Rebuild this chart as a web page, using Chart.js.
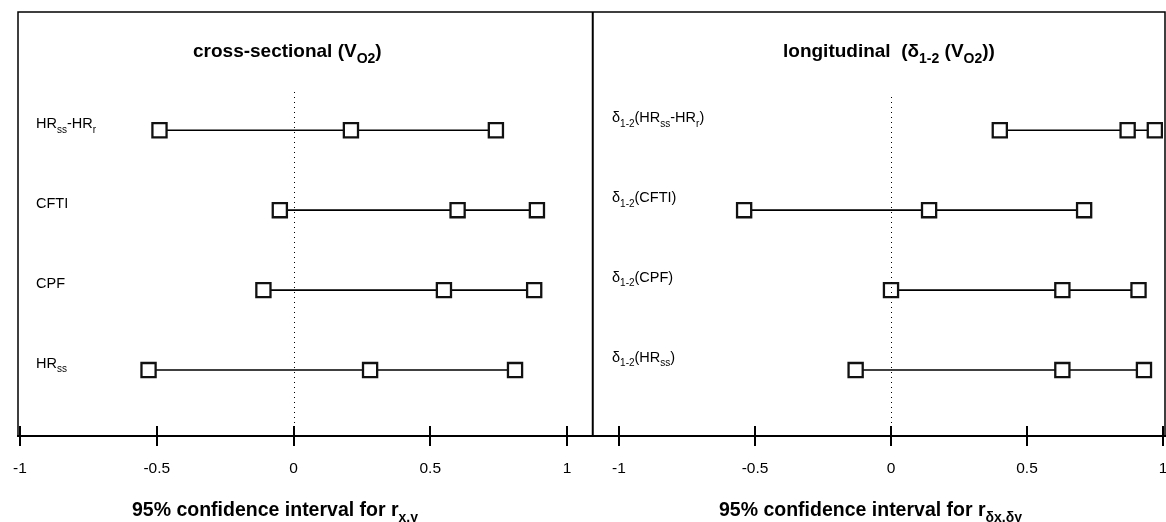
<!DOCTYPE html>
<html>
<head>
<meta charset="utf-8">
<script src="https://cdn.jsdelivr.net/npm/chart.js@4"></script>
<style>
  html, body { margin: 0; padding: 0; background: #fff; overflow: hidden; }
  #wrap { position: relative; width: 1166px; height: 522px; overflow: hidden; }
  #left-box { position: absolute; left: 0; top: 0; width: 593px; height: 522px; }
  #right-box { position: absolute; left: 593px; top: 0; width: 600px; height: 522px; }
</style>
</head>
<body>
<div id="wrap">
  <div id="left-box"><canvas id="left-chart"></canvas></div>
  <div id="right-box"><canvas id="right-chart"></canvas></div>
</div>
<script>
// Data
const xTicks = [-1, -0.5, 0, 0.5, 1];
const xTickLabels = ['-1', '-0.5', '0', '0.5', '1'];

const leftRows = ['HR_{ss}-HR_{r}', 'CFTI', 'CPF', 'HR_{ss}'];
const leftLow = [-0.49, -0.05, -0.11, -0.53];
const leftMid = [0.21, 0.60, 0.55, 0.28];
const leftHigh = [0.74, 0.89, 0.88, 0.81];

const rightRows = ['δ_{1-2}(HR_{ss}-HR_{r})', 'δ_{1-2}(CFTI)', 'δ_{1-2}(CPF)', 'δ_{1-2}(HR_{ss})'];
const rightLow = [0.40, -0.54, 0.00, -0.13];
const rightMid = [0.87, 0.14, 0.63, 0.63];
const rightHigh = [0.97, 0.71, 0.91, 0.93];

const FONT = '"Liberation Sans", Arial, sans-serif';

// draw text with _{...} parts as subscripts
function drawRich(ctx, text, x, y, size, weight, subScale) {
    const parts = text.split(/_\{([^}]*)\}/);
    const subSize = Math.round(size * subScale);
    let cx = x;
    ctx.textAlign = 'left';
    ctx.textBaseline = 'alphabetic';
    ctx.fillStyle = '#000';
    parts.forEach((p, i) => {
        const sub = i % 2 === 1;
        ctx.font = `${weight} ${sub ? subSize : size}px ${FONT}`;
        ctx.fillText(p, cx, sub ? y + size * 0.3 : y);
        cx += ctx.measureText(p).width;
    });
}

function makeDatasets(low, mid, high) {
    return low.map((v, i) => ({
        data: [
            { x: low[i], y: i + 1 },
            { x: mid[i], y: i + 1 },
            { x: high[i], y: i + 1 }
        ],
        showLine: true,
        borderColor: '#000',
        borderWidth: 1.6,
        pointStyle: 'rect',
        pointRadius: 10,
        pointHoverRadius: 10,
        pointBorderWidth: 2.3,
        pointBorderColor: '#111',
        pointBackgroundColor: '#fff'
    }));
}

function makePanel(id, cfg) {
    const decor = {
        id: 'decor',
        afterDraw(chart) {
            const ctx = chart.ctx;
            const xs = chart.scales.x;
            const ys = chart.scales.y;
            const w = chart.width;
            const axisY = chart.chartArea.bottom;
            ctx.save();
            ctx.strokeStyle = '#000';

            // frame
            ctx.lineWidth = 1.5;
            ctx.beginPath();
            ctx.moveTo(cfg.frameLeft, axisY);
            ctx.lineTo(cfg.frameLeft, 12);
            ctx.lineTo(cfg.frameRight, 12);
            ctx.lineTo(cfg.frameRight, axisY);
            ctx.stroke();

            // axis line
            ctx.lineWidth = 2;
            ctx.beginPath();
            ctx.moveTo(cfg.axisFrom, axisY);
            ctx.lineTo(w, axisY);
            ctx.stroke();

            // upper half of ticks
            xTicks.forEach(t => {
                const px = Math.round(xs.getPixelForValue(t));
                ctx.beginPath();
                ctx.moveTo(px, axisY - 10);
                ctx.lineTo(px, axisY);
                ctx.stroke();
            });

            // dotted zero line
            ctx.lineWidth = 1;
            ctx.setLineDash([1, 4]);
            const zx = Math.round(xs.getPixelForValue(0)) + 0.5;
            ctx.beginPath();
            ctx.moveTo(zx, cfg.dotTop);
            ctx.lineTo(zx, axisY);
            ctx.stroke();
            ctx.setLineDash([]);

            // row labels
            cfg.rows.forEach((r, i) => {
                const py = ys.getPixelForValue(i + 1);
                drawRich(ctx, r, cfg.labelX, py + cfg.labelDy, 14.5, 'normal', 0.7);
            });

            // title and axis title
            drawRich(ctx, cfg.title, cfg.titleX, 57, 19, 'bold', 0.72);
            drawRich(ctx, cfg.axisTitle, cfg.axisTitleX, 516, 19.5, 'bold', 0.72);
            ctx.restore();
        }
    };

    return new Chart(document.getElementById(id), {
        type: 'scatter',
        data: { datasets: makeDatasets(cfg.low, cfg.mid, cfg.high) },
        options: {
            responsive: true,
            maintainAspectRatio: false,
            animation: false,
            layout: { padding: { left: cfg.padLeft, right: cfg.padRight, top: 12, bottom: 0 } },
            plugins: { legend: { display: false }, tooltip: { enabled: false } },
            scales: {
                x: {
                    type: 'linear',
                    min: -1,
                    max: 1,
                    afterBuildTicks(scale) {
                        scale.ticks = xTicks.map(v => ({ value: v }));
                    },
                    afterFit(scale) { scale.height = 86; },
                    border: { display: false },
                    grid: {
                        drawOnChartArea: false,
                        drawTicks: true,
                        tickLength: 10,
                        color: '#000',
                        lineWidth: 2
                    },
                    ticks: {
                        padding: 13,
                        color: '#000',
                        maxRotation: 0,
                        autoSkip: false,
                        font: { family: FONT, size: 15.5 },
                        callback: (v) => xTickLabels[xTicks.indexOf(v)]
                    }
                },
                y: {
                    display: false,
                    reverse: true,
                    min: -0.475,
                    max: 4.825
                }
            }
        },
        plugins: [decor]
    });
}

makePanel('left-chart', {
    rows: leftRows, low: leftLow, mid: leftMid, high: leftHigh,
    padLeft: 20, padRight: 26,
    frameLeft: 18, frameRight: 592.5, axisFrom: 17,
    labelX: 36, labelDy: -2, dotTop: 92,
    titleX: 193, axisTitleX: 132,
    title: 'cross-sectional (V_{O2})',
    axisTitle: '95% confidence interval for r_{x,y}'
});

makePanel('right-chart', {
    rows: rightRows, low: rightLow, mid: rightMid, high: rightHigh,
    padLeft: 26, padRight: 30,
    frameLeft: 0, frameRight: 572, axisFrom: 0,
    labelX: 19, labelDy: -8, dotTop: 97,
    titleX: 190, axisTitleX: 126,
    title: 'longitudinal  (δ_{1-2} (V_{O2}))',
    axisTitle: '95% confidence interval for r_{δx,δy}'
});
</script>
</body>
</html>
